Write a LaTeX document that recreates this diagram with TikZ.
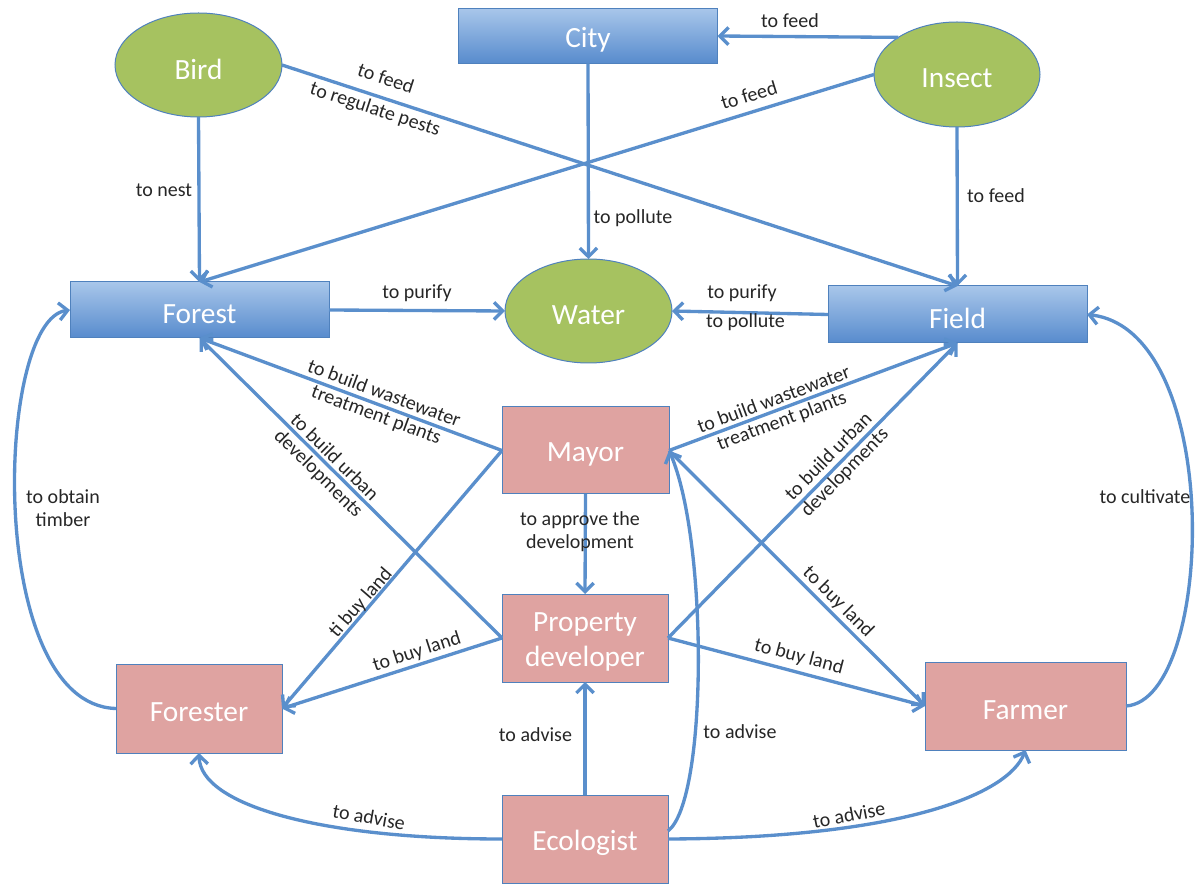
\documentclass[tikz,border=0pt]{standalone}
\usepackage{fontspec}
\setmainfont{Carlito}
\usetikzlibrary{arrows.meta,shapes.geometric}
\definecolor{arr}{HTML}{5A8FCC}
\definecolor{bord}{HTML}{4F81BD}
\definecolor{pinkf}{HTML}{DFA3A1}
\definecolor{greenf}{HTML}{A6C260}
\definecolor{bluetop}{HTML}{A8C6EA}
\definecolor{bluebot}{HTML}{578BCD}
\definecolor{txt}{HTML}{262626}
\newcommand{\dn}[1]{\raisebox{-3pt}[\height][\depth]{#1}}
\begin{document}
\begin{tikzpicture}[x=0.75pt,y=-0.75pt,
  base/.style={draw=bord, line width=0.75pt, text=white, inner sep=0pt, outer sep=0pt,
    align=center, font=\fontsize{22}{26}\selectfont},
  bluebox/.style={base, rectangle, top color=bluetop, bottom color=bluebot},
  greenell/.style={base, ellipse, fill=greenf},
  pinkbox/.style={base, rectangle, fill=pinkf},
  conn/.style={draw=arr, line width=2.5pt, -{Straight Barb[length=6.5pt,width=13pt]}},
  lbl/.style={text=txt, font=\fontsize{15}{17}\selectfont, inner sep=0pt, align=center},
]
\path[use as bounding box] (0,0) rectangle (1203,887);

% nodes
\node[bluebox, minimum width=194.25pt, minimum height=41.25pt] (City) at (588,36) {\dn{City}};
\node[bluebox, minimum width=194.25pt, minimum height=42pt] (Forest) at (199.5,310) {\dn{Forest}};
\node[bluebox, minimum width=194.25pt, minimum height=42.75pt] (Field) at (957.5,314.5) {\dn{Field}};
\node[greenell, minimum width=125.25pt, minimum height=78pt] (Bird) at (198.5,65) {\dn{Bird}};
\node[greenell, minimum width=124.5pt, minimum height=78.75pt] (Insect) at (957,74.5) {\dn{Insect}};
\node[greenell, minimum width=125.25pt, minimum height=78pt] (Water) at (588.5,311) {\dn{Water}};
\node[pinkbox, minimum width=125.25pt, minimum height=65.25pt] (Mayor) at (585.5,450.5) {\dn{Mayor}};
\node[pinkbox, minimum width=124.5pt, minimum height=66pt] (PD) at (585,638) {\dn{\begin{tabular}{@{}c@{}}Property\\developer\end{tabular}}};
\node[pinkbox, minimum width=124.5pt, minimum height=66.75pt] (Forester) at (199,708.5) {\dn{Forester}};
\node[pinkbox, minimum width=150.75pt, minimum height=66pt] (Farmer) at (1025.5,706) {\dn{Farmer}};
\node[pinkbox, minimum width=124.5pt, minimum height=66pt] (Ecologist) at (585,839) {\dn{Ecologist}};

% connectors
\draw[conn] (Insect.north west) -- (City.east);
\draw[conn] (City.south) -- (Water.north);
\draw[conn] (Insect.west) -- (Forest.north);
\draw[conn] (Bird.east) -- (Field.north);
\draw[conn] (Bird.south) -- (Forest.north);
\draw[conn] (Insect.south) -- (Field.north);
\draw[conn] (Forest.east) -- (Water.west);
\draw[conn] (Field.west) -- (Water.east);
\draw[conn] (Mayor.west) -- (Forest.south);
\draw[conn] (PD.west) -- (Forest.south);
\draw[conn] (Mayor.east) -- (Field.south);
\draw[conn] (PD.east) -- (Field.south);
\draw[conn] (Mayor.west) -- (Forester.east);
\draw[conn] (PD.west) -- (Forester.east);
\draw[conn] (Mayor.east) -- (Farmer.west);
\draw[conn] (PD.east) -- (Farmer.west);
\draw[conn] (Mayor.south) -- (PD.north);
\draw[conn] (Ecologist.north) -- (PD.south);
\draw[conn] (Ecologist.west) .. controls (320,839) and (200,805) .. (Forester.south);
\draw[conn] (Ecologist.east) .. controls (900,838) and (1008,795) .. (Farmer.south);
\draw[conn] ([yshift=6pt]Ecologist.east) .. controls (708,800) and (708,540) .. (Mayor.east);
\draw[conn] (Forester.west) .. controls (-15,705) and (-5,320) .. (Forest.west);
\draw[conn] (Farmer.east) .. controls (1215,700) and (1225,330) .. (Field.east);

% labels
\node[lbl] (l1) at (790,21) {to feed};
\node[lbl] (l2) at (633,218) {to pollute};
\node[lbl, rotate=17] (l3) at (749,95) {to feed};
\node[lbl, rotate=-18] (l4) at (386,78) {to feed};
\node[lbl, rotate=-18] (l5) at (375,110) {to regulate pests};
\node[lbl] (l6) at (164,190) {to nest};
\node[lbl] (l7) at (996,196) {to feed};
\node[lbl] (l8) at (417,293) {to purify};
\node[lbl] (l9) at (742,293) {to purify};
\node[lbl] (l10) at (745.5,322) {to pollute};
\node[lbl, rotate=-20.3] (l11) at (380,405) {to build wastewater\\treatment plants};
\node[lbl, rotate=-44.7] (l12) at (326,466) {to build urban\\developments};
\node[lbl, rotate=20.4] (l13) at (778,411) {to build wastewater\\treatment plants};
\node[lbl, rotate=45.6] (l14) at (837,465) {to build urban\\developments};
\node[lbl, rotate=49] (l15) at (361,603) {ti buy land};
\node[lbl, rotate=18] (l16) at (417,652) {to buy land};
\node[lbl, rotate=-45] (l17) at (838,602) {to buy land};
\node[lbl, rotate=-14.8] (l18) at (799,657) {to buy land};
\node[lbl] (l19) at (580,532) {to approve the\\development};
\node[lbl] (l20) at (535.5,735) {to advise};
\node[lbl] (l21) at (740,732) {to advise};
\node[lbl, rotate=-10] (l22) at (369,817) {to advise};
\node[lbl, rotate=11] (l23) at (849,815) {to advise};
\node[lbl] (l24) at (63,508) {to obtain\\timber};
\node[lbl] (l25) at (1145,497) {to cultivate};
\end{tikzpicture}
\end{document}
